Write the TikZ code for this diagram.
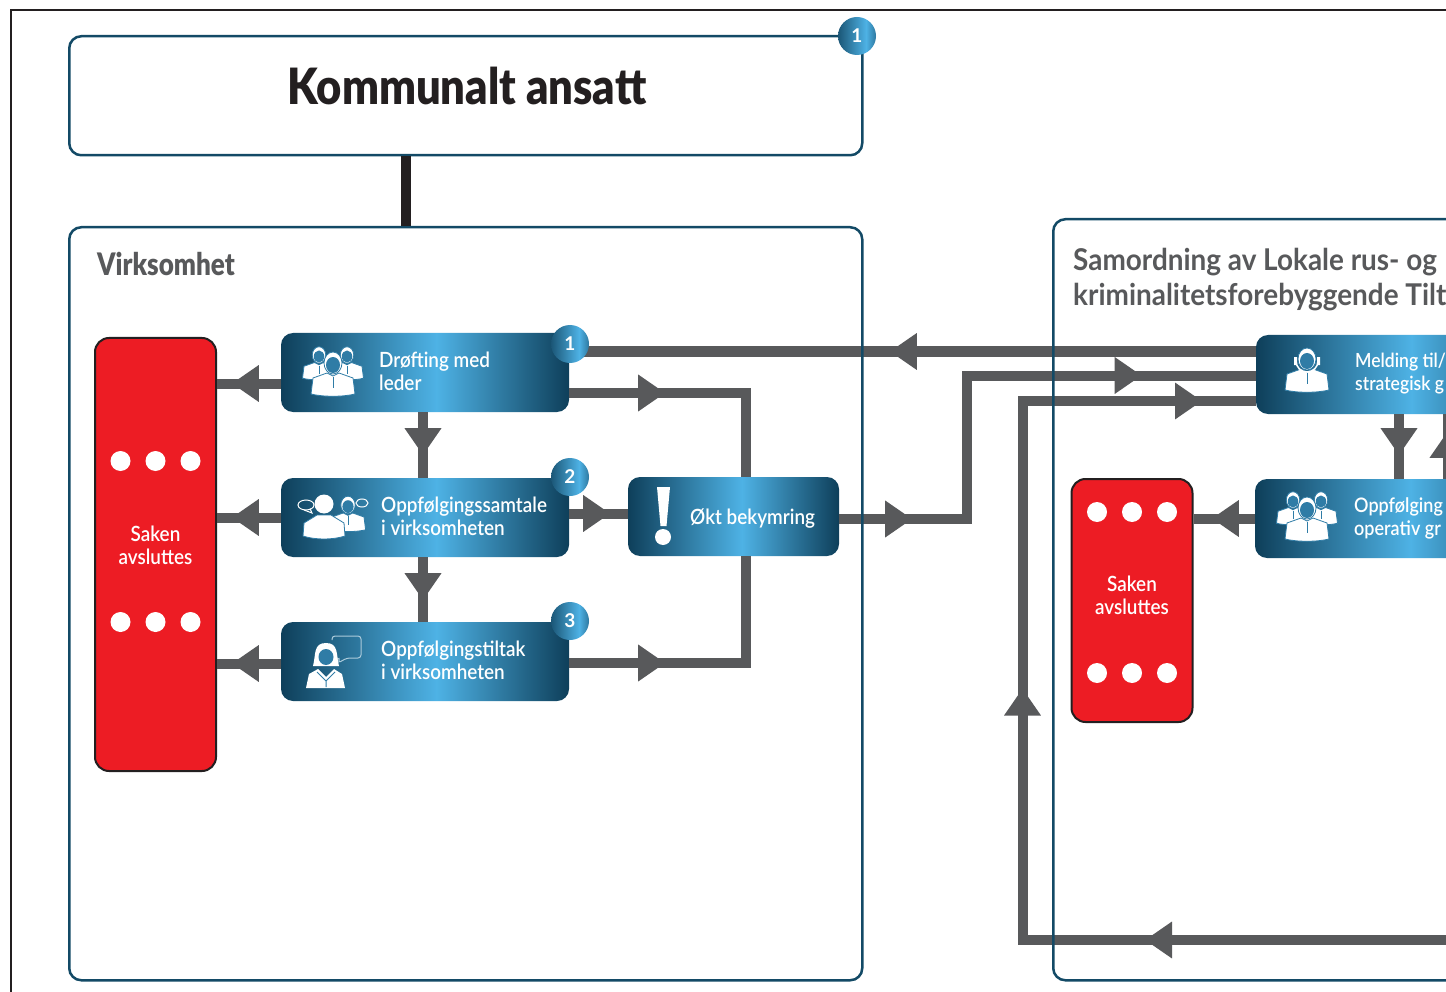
\documentclass[tikz,border=0pt]{standalone}
\usepackage{fontspec}
\setmainfont{Lato}
\newfontfamily\titlefont[FakeStretch=0.87]{Lato Black}
\newfontfamily\virkfont[FakeStretch=0.84]{Lato Black}
\newfontfamily\headfont[FakeStretch=0.93]{Lato Bold}
\newfontfamily\labelfont[FakeStretch=0.9]{Lato Semibold}
\newfontfamily\badgefont{Lato Bold}
\usetikzlibrary{arrows.meta,decorations.markings,positioning,calc}

\definecolor{boxdark}{HTML}{0E3F5A}
\definecolor{boxlight}{HTML}{4EB2E5}
\definecolor{iconblue}{HTML}{2F7CA6}
\definecolor{linegray}{HTML}{58595B}
\definecolor{framedark}{HTML}{134A66}
\definecolor{inkblack}{HTML}{231F20}
\definecolor{panelred}{HTML}{ED1C24}
\pgfdeclarehorizontalshading{boxshade}{100bp}{color(0bp)=(boxdark); color(25bp)=(boxdark); color(52bp)=(boxlight); color(75bp)=(boxdark); color(100bp)=(boxdark)}
\pgfdeclarehorizontalshading{badgeshade}{100bp}{color(0bp)=(boxdark); color(25bp)=(boxdark!80!boxlight); color(62bp)=(boxlight); color(75bp)=(boxdark!50!boxlight); color(100bp)=(boxdark)}

\tikzset{
	bluebox/.style={shading=boxshade, rounded corners=12pt, minimum height=79pt, inner sep=0pt},
	badge/.style={circle, shading=badgeshade, minimum size=38pt, inner sep=0pt, text=white, font=\badgefont\fontsize{19}{19}\selectfont},
	boxlabel/.style={anchor=west, inner sep=0pt, align=left, text=white, font=\labelfont\fontsize{21}{23}\selectfont},
	frame/.style={draw=framedark, line width=2.5pt, rounded corners=12pt, inner sep=0pt, anchor=north west},
	redpanel/.style={draw=inkblack, fill=panelred, line width=2pt, rounded corners=14pt, minimum width=121pt, inner sep=0pt},
	redlabel/.style={align=center, inner sep=0pt, text=white, font=\labelfont\fontsize{21}{23}\selectfont},
	conn/.style={draw=linegray, line width=10pt, line join=miter},
	midtip/.style={postaction={decorate, decoration={markings, mark=at position #1 with {\arrow[linegray]{Triangle[length=27pt,width=35pt]}}}}},
	thinwhite/.style={draw=white, line width=1pt},
	pics/bust/.style={code={
		\filldraw[fill=white, draw=iconblue, line width=0.8pt] (-22,31) .. controls (-10,34) and (10,34) .. (22,31) -- (20,15) -- (6,10) -- (0,13) -- (-6,10) -- (-20,15) -- cycle;
		\filldraw[fill=white, draw=iconblue, line width=0.8pt] (0,0) ellipse (9 and 11);
		\fill[iconblue] (0,2) ellipse (7 and 8);
		\draw[iconblue, line width=1pt] (0,14) -- (0,25);
	}},
	pics/group/.style={code={
		\pic[scale=0.75] at (-14,-8) {bust};
		\pic[scale=0.75] at (14,-8) {bust};
		\pic at (0,0) {bust};
	}}
}

\begin{document}
\begin{tikzpicture}[x=1pt, y=-1pt]
	\useasboundingbox (0,0) rectangle (1446,992);
	\clip (0,0) rectangle (1446,992);
	\fill[white] (0,0) rectangle (1446,992);

	\node[bluebox, minimum width=288pt] (drofting) at (425,372.5) {};
	\node[bluebox, minimum width=288pt] (samtale) at (425,517.5) {};
	\node[bluebox, minimum width=288pt] (tiltak) at (425,661.5) {};
	\node[bluebox, minimum width=211pt] (bekymring) at (733.5,516.5) {};
	\node[bluebox, minimum width=288pt] (melding) at (1400,374.5) {};
	\node[bluebox, minimum width=288pt] (operativ) at (1399,518.5) {};
	\node[redpanel, minimum height=433pt] (avslutt1) at (155.5,554.5) {};
	\node[redpanel, minimum height=243pt] (avslutt2) at (1132,600.5) {};
	\coordinate (retur) at (1500,940);

	% connectors
	\draw[conn, midtip=49pt] ([yshift=-11pt]drofting.west) -- ([yshift=-11pt]drofting.west -| avslutt1.east);
	\draw[conn, midtip=49pt] (samtale.west) -- (samtale.west -| avslutt1.east);
	\draw[conn, midtip=49pt] ([yshift=-2pt]tiltak.west) -- ([yshift=-2pt]tiltak.west -| avslutt1.east);
	\draw[conn, midtip=43pt] ([xshift=-2pt]drofting.south) -- ([xshift=-2pt]samtale.north);
	\draw[conn, midtip=43pt] ([xshift=-2pt]samtale.south) -- ([xshift=-2pt]tiltak.north);
	\draw[conn, midtip=41pt] ([yshift=4pt]samtale.east) -- ([yshift=4pt]samtale.east -| bekymring.west);
	\draw[conn, midtip=96pt] ([yshift=-20.5pt]drofting.east) -| ([xshift=12.5pt]bekymring.north);
	\draw[conn, midtip=96pt] ([yshift=-1.5pt]tiltak.east) -| ([xshift=12.5pt]bekymring.south);
	\draw[conn, midtip=366pt] ([yshift=23pt]melding.west) -- ([yshift=21pt]drofting.east);
	\draw[conn, midtip=73pt, midtip=446pt] ([yshift=-2.5pt]bekymring.east) -| (967,375.5) -- ([yshift=-1pt]melding.west);
	\draw[conn, midtip=355pt, midtip=729pt, midtip=1196pt] (retur) -| (1022.5,401) -- ([yshift=-26.5pt]melding.west);
	\draw[conn, midtip=41pt] ([xshift=-1pt]melding.south) -- (operativ.north);
	\draw[conn, midtip=48pt] ([xshift=49pt]operativ.north) -- ([xshift=49pt]operativ.north |- melding.south);
	\draw[conn, midtip=43pt] (operativ.west) -- (operativ.west -| avslutt2.east);

	% frames over the lines
	\node[frame, minimum width=793pt, minimum height=119pt] (kommunalt) at (68,35) {};
	\node[frame, minimum width=793pt, minimum height=753pt] (virksomhet) at (68,226) {};
	\node[frame, minimum width=600pt, minimum height=761pt] (samordning) at (1052,218) {};
	\node[draw=inkblack, line width=2pt, inner sep=0pt, anchor=north west, minimum width=1600pt, minimum height=1600pt] (ytre) at (9.5,9.5) {};
	\draw[inkblack, line width=10pt] ([xshift=-59.5pt]kommunalt.south) -- ([xshift=-59.5pt]virksomhet.north);

	% badges
	\node[badge] (merke0) at (857,36) {1};
	\node[badge] (merke1) at (570,344) {1};
	\node[badge] (merke2) at (570,477) {2};
	\node[badge] (merke3) at (570,621) {3};

	% red panels
	\foreach \dx in {-35,0,35} {
		\fill[white] ([xshift=\dx pt]avslutt1.center |- 0,461) circle (10);
		\fill[white] ([xshift=\dx pt]avslutt1.center |- 0,622) circle (10);
		\fill[white] ([xshift=\dx pt]avslutt2.center |- 0,512) circle (10);
		\fill[white] ([xshift=\dx pt]avslutt2.center |- 0,673) circle (10);
	}
	\node[redlabel] (saken1) at (155.5,545) {Saken\\avsluttes};
	\node[redlabel] (saken2) at (1132,595.5) {Saken\\avsluttes};

	% headings
	\node[inner sep=0pt, text=inkblack, font=\titlefont\fontsize{50}{50}\selectfont] (tittel) at (467,86) {Kommunalt ansatt};
	\node[anchor=west, inner sep=0pt, text=linegray, font=\virkfont\fontsize{31}{31}\selectfont] (virktekst) at (97,264) {Virksomhet};
	\node[anchor=north west, inner sep=0pt, align=left, text=linegray, font=\headfont\fontsize{30}{35}\selectfont] (samtekst) at (1073,248) {Samordning av Lokale rus- og\\kriminalitetsforebyggende Tilt};

	% box texts
	\node[boxlabel] (droftingtekst) at (379,371.5) {Drøfting med\\leder};
	\node[boxlabel] (samtaletekst) at (381,516) {Oppfølgingssamtale\\i virksomheten};
	\node[boxlabel] (tiltaktekst) at (381,660) {Oppfølgingstiltak\\i virksomheten};
	\node[boxlabel] (bekymringtekst) at (690,518) {Økt bekymring};
	\node[boxlabel, font=\labelfont\fontsize{19.5}{23}\selectfont] (meldingtekst) at (1355,374) {Melding til/\\strategisk g};
	\node[boxlabel, font=\labelfont\fontsize{20}{23}\selectfont] (operativtekst) at (1354,518) {Oppfølging\\operativ gr};

	% icons
	\pic at (333,363) {group};
	\pic at (1307,508) {group};
	\pic at (1307,359) {bust};
	\draw[thinwhite, line width=1.5pt] (1296,361) arc (180:0:11);
	\fill[white] (1294,357) rectangle (1297,365) (1317,357) rectangle (1320,365);
	% samtale
	\pic[scale=0.8] at (348,505) {bust};
	\filldraw[fill=white, draw=iconblue, line width=0.8pt] (303,536) .. controls (315,540) and (333,540) .. (345,536) -- (344,523) -- (331,515) -- (317,515) -- (304,523) -- cycle;
	\fill[white] (324,504) circle (9.5);
	\draw[thinwhite] (306,505) ellipse (8 and 5);
	\draw[thinwhite] (304,510) -- (312,513) -- (310,508.5);
	\draw[thinwhite] (362,503) ellipse (6 and 4);
	% tiltak
	\draw[draw=white!60!iconblue, line width=1pt, rounded corners=3pt] (332,640) |- (361,636) |- (347,658) -- (338,663) -- (340,658) -- (332,658);
	\fill[white] (313,666) .. controls (316,655) and (313,643) .. (326,643) .. controls (339,643) and (336,655) .. (339,666) -- cycle;
	\fill[iconblue] (326,657) ellipse (7.5 and 8);
	\fill[white] (306,688) -- (309,674) -- (318,669) -- (326,677) -- (334,669) -- (342,674) -- (345,688) -- cycle;
	\draw[iconblue, line width=1pt] (317,672) -- (326,681) -- (335,672) (326,681) -- (326,687);
	% bekymring
	\fill[white] (657,487) -- (670,487) -- (666.5,526) -- (660.5,526) -- cycle;
	\fill[white] (663,537) circle (8);
\end{tikzpicture}
\end{document}
